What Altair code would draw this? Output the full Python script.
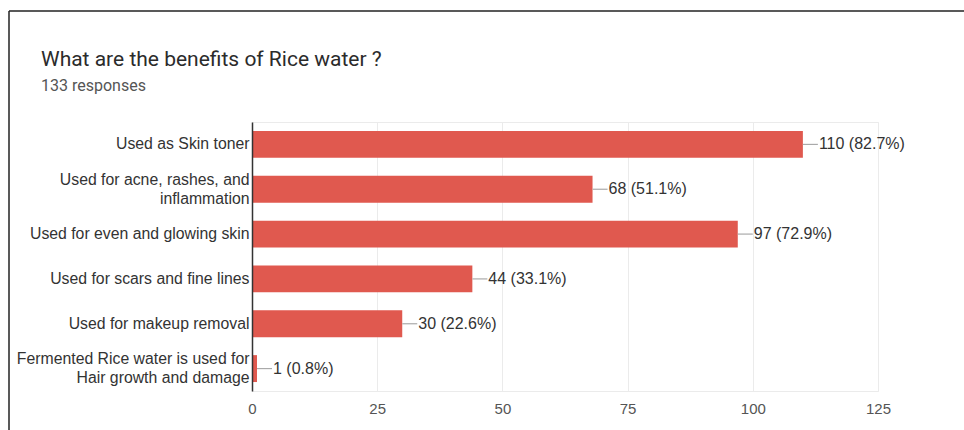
import altair as alt
import pandas as pd

# Survey question and answer counts
question = "What are the benefits of Rice water ?"
subtitle = "133 responses"
total_responses = 133

categories = [
    "Used as Skin toner",
    "Used for acne, rashes, and\ninflammation",
    "Used for even and glowing skin",
    "Used for scars and fine lines",
    "Used for makeup removal",
    "Fermented Rice water is used for\nHair growth and damage",
]
counts = [110, 68, 97, 44, 30, 1]
x_ticks = [0, 25, 50, 75, 100, 125]

df = pd.DataFrame({"benefit": categories, "count": counts})
df["label"] = [f"{c} ({c / total_responses * 100:.1f}%)" for c in counts]

BAR_COLOR = "#E0594F"
TEXT = "#333333"
GRID = "#EBEBEB"
W, H = 626, 269
PAD_L, PAD_T = 252, 122
LINE_H = 19

base = alt.Chart(df)

y_enc = alt.Y(
    "benefit:N",
    sort=categories,
    title=None,
    scale=alt.Scale(paddingInner=0.4, paddingOuter=0.2),
    axis=alt.Axis(
        labelExpr="split(datum.value, '\\n')",
        labelFontSize=15.8,
        labelColor=TEXT,
        labelFont="Liberation Sans",
        labelLineHeight=LINE_H,
        # centre wrapped (two-line) labels on their bar
        labelOffset=alt.ExprRef(f"indexof(datum.value, '\\n') >= 0 ? {-LINE_H / 2} : 0"),
        labelPadding=3,
        ticks=False,
        domainColor="#333333",
        domainWidth=1.5,
        grid=False,
        labelLimit=260,
        zindex=1,
    ),
)

x_enc = alt.X(
    "count:Q",
    title=None,
    scale=alt.Scale(domain=[0, 125], nice=False),
    axis=alt.Axis(
        values=x_ticks,
        domain=False,
        ticks=False,
        grid=True,
        gridColor=GRID,
        gridWidth=1,
        labelFontSize=15,
        labelColor="#555555",
        labelFont="Liberation Sans",
        labelPadding=10,
        labelFlush=False,
    ),
)

bars = base.mark_bar(color=BAR_COLOR).encode(x=x_enc, y=y_enc)

leaders = base.mark_rule(color="#AAAAAA", strokeWidth=1.2, x2Offset=15).encode(
    x="count:Q", x2="count:Q", y=alt.Y("benefit:N", sort=categories)
)

values = base.mark_text(
    align="left", baseline="middle", dx=16, fontSize=16,
    font="Liberation Sans", color=TEXT,
).encode(x="count:Q", y=alt.Y("benefit:N", sort=categories), text="label:N")

# heading text drawn above the plot area
head = pd.DataFrame({"t": [question]})
sub = pd.DataFrame({"t": [subtitle]})
title_mark = alt.Chart(head).mark_text(
    align="left", baseline="alphabetic", fontSize=21, font="Roboto", color="#2B2B2B"
).encode(x=alt.value(41 - PAD_L), y=alt.value(66 - PAD_T), text="t:N")
sub_mark = alt.Chart(sub).mark_text(
    align="left", baseline="alphabetic", fontSize=16, font="Roboto", color="#555555"
).encode(x=alt.value(41 - PAD_L), y=alt.value(91 - PAD_T), text="t:N")

# card frame lines (top and left edges)
frame = pd.DataFrame({"k": [0]})
frame_top = alt.Chart(frame).mark_rule(color="#222222", strokeWidth=1.5).encode(
    x=alt.value(9 - PAD_L), x2=alt.value(964 - PAD_L), y=alt.value(11 - PAD_T)
)
frame_left = alt.Chart(frame).mark_rule(color="#222222", strokeWidth=1.5).encode(
    x=alt.value(9 - PAD_L), y=alt.value(11 - PAD_T), y2=alt.value(430 - PAD_T)
)

chart = (
    alt.layer(bars, leaders, values, title_mark, sub_mark, frame_top, frame_left)
    .properties(
        width=W,
        height=H,
        autosize=alt.AutoSizeParams(type="none"),
        padding={"left": PAD_L, "top": PAD_T, "right": 964 - PAD_L - W, "bottom": 430 - PAD_T - H},
        background="white",
    )
    .configure_view(stroke=GRID, strokeWidth=1)
)

chart.save("out.html", embed_options={"renderer": "svg", "actions": False})
